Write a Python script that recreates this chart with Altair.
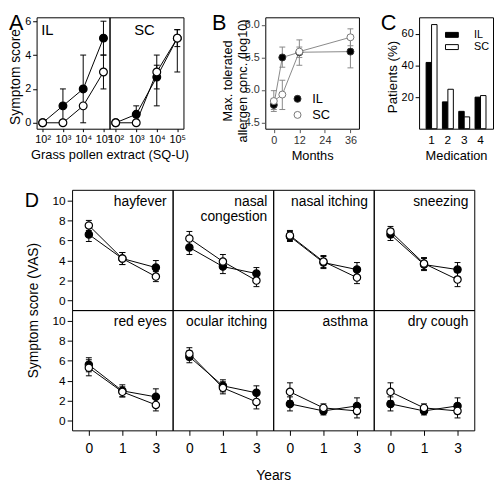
import altair as alt
import pandas as pd

FONT = "Liberation Sans"

# ---------------- Panel A : provocation symptom score ----------------
a_dose = [1e2, 1e3, 1e4, 1e5]
a_yticks = [0, 2, 4, 6]
a_il_filled = [0, 1, 2, 5]
a_il_filled_lo = [0, 0, 0, 4]
a_il_filled_hi = [0, 2, 4, 6]
a_il_open = [0, 0, 1, 3]
a_il_open_lo = [0, 0, 1, 2]
a_il_open_hi = [0, 0, 1, 4]
a_sc_filled = [0, 0.5, 2.7, 5]
a_sc_filled_lo = [0, 0, 1.0, 4.5]
a_sc_filled_hi = [0, 1.0, 4.0, 5.5]
a_sc_open = [0, 0, 3, 5]
a_sc_open_lo = [0, 0, 2.0, 3.0]
a_sc_open_hi = [0, 0, 3.4, 5.5]

# ---------------- Panel B : max tolerated allergen conc ----------------
b_months = [0, 4, 12, 36]
b_xticks = [0, 12, 24, 36]
b_yticks = [4.5, 5.0, 5.5, 6.0]
b_il = [4.77, 5.50, 5.58, 5.59]
b_il_lo = [4.67, 5.35, 5.50, 5.34]
b_il_hi = [4.87, 5.66, 5.66, 5.84]
b_sc = [4.83, 4.93, 5.59, 5.81]
b_sc_lo = [4.70, 4.70, 5.38, 5.68]
b_sc_hi = [4.99, 5.15, 5.77, 5.94]

# ---------------- Panel C : medication ----------------
c_medication = [1, 2, 3, 4]
c_il = [42, 17, 11, 20]
c_sc = [66, 25, 7.5, 21]
c_yticks = [20, 40, 60]

# ---------------- Panel D : symptom VAS ----------------
d_symptoms = ["hayfever", "nasal\ncongestion", "nasal itching", "sneezing",
              "red eyes", "ocular itching", "asthma", "dry cough"]
d_years = [0, 1, 3]
d_yticks = [0, 2, 4, 6, 8, 10]
d_il_mean = [[6.6, 4.2, 3.3], [5.3, 3.4, 2.7], [6.4, 3.8, 3.1], [6.6, 3.6, 3.1],
             [5.6, 3.0, 2.4], [6.4, 3.5, 2.8], [1.7, 1.0, 1.5], [1.7, 1.0, 1.5]]
d_il_err = [[0.7, 0.6, 0.7], [0.7, 0.7, 0.6], [0.5, 0.6, 0.7], [0.6, 0.6, 0.7],
            [0.7, 0.6, 0.8], [0.6, 0.6, 0.7], [0.7, 0.4, 0.8], [0.7, 0.4, 0.8]]
d_sc_mean = [[7.5, 4.2, 2.4], [6.2, 3.9, 2.0], [6.5, 3.9, 2.3], [6.9, 3.7, 2.1],
             [5.3, 2.9, 1.6], [6.7, 3.3, 1.9], [2.9, 1.3, 1.0], [2.9, 1.3, 1.0]]
d_sc_err = [[0.5, 0.6, 0.5], [0.7, 0.7, 0.6], [0.5, 0.6, 0.6], [0.5, 0.6, 0.7],
            [0.8, 0.5, 0.6], [0.6, 0.6, 0.7], [0.9, 0.4, 0.7], [0.9, 0.4, 0.7]]

CAP = "M-1,0L1,0"
BOX = "M-1,-0.385L1,-0.385L1,0.385L-1,0.385Z"


def ax(**kw):
    base = dict(grid=False, domain=False, tickColor="black", labelColor="black",
                labelFont=FONT, titleFont=FONT, titleFontWeight="normal",
                titleColor="black", tickSize=4, labelFontSize=11, labelPadding=2)
    base.update(kw)
    return alt.Axis(**base)


def note(txt, x, y, size, align="left", baseline="top"):
    return alt.Chart(pd.DataFrame({"t": [txt]})).mark_text(
        align=align, baseline=baseline, fontSize=size, font=FONT, color="black"
    ).encode(text="t:N", x=alt.value(x), y=alt.value(y))


def key_symbol(shape, fill, stroke, size, x, y):
    return alt.Chart(pd.DataFrame({"t": ["k"]})).mark_point(
        shape=shape, fill=fill, stroke=stroke, strokeWidth=1, size=size, opacity=1
    ).encode(x=alt.value(x), y=alt.value(y))


def error_layers(base, x, lo, hi, ysc, yaxis, color):
    return [
        base.mark_rule(color=color, strokeWidth=1).encode(
            x=x, y=alt.Y(lo, scale=ysc, axis=yaxis), y2=alt.Y2(hi)),
        base.mark_point(shape=CAP, stroke=color, strokeWidth=1, size=36, opacity=1).encode(
            x=x, y=alt.Y(lo, scale=ysc, axis=yaxis)),
        base.mark_point(shape=CAP, stroke=color, strokeWidth=1, size=36, opacity=1).encode(
            x=x, y=alt.Y(hi, scale=ysc, axis=yaxis)),
    ]


# ---------------- build A ----------------
def a_frame(filled, flo, fhi, opn, olo, ohi):
    rows = []
    for name, m, lo, hi in (("filled", filled, flo, fhi), ("open", opn, olo, ohi)):
        for d, v, l, h in zip(a_dose, m, lo, hi):
            rows.append({"dose": d, "score": v, "lo": l, "hi": h, "series": name})
    return pd.DataFrame(rows)


A_LABELS = ("'10' + (datum.value < 500 ? '\u00b2' : datum.value < 5000 ? '\u00b3' : "
            "datum.value < 50000 ? '\u2074' : '\u2075')")


def panel_a(df, width, tag, tag_x, first):
    xsc = alt.Scale(type="log", domain=[10 ** 1.7, 10 ** 5.3], nice=False)
    ysc = alt.Scale(domain=[-0.35, 6.23], nice=False, zero=False)
    if first:
        xaxis = ax(values=a_dose, labelExpr=A_LABELS, labelOverlap=False, labelFlush=False,
                   tickSize=3, title="Grass pollen extract (SQ-U)", titleFontSize=13,
                   titleX=74, titlePadding=4)
        yaxis = ax(values=a_yticks, title="Symptom score", titleFontSize=14,
                   titleX=-14, titleY=60)
    else:
        xaxis = ax(values=a_dose, labelExpr=A_LABELS, labelOverlap=False, labelFlush=False,
                   tickSize=3, title=None)
        yaxis = None
    x = alt.X("dose:Q", scale=xsc, axis=xaxis)
    y = alt.Y("score:Q", scale=ysc, axis=yaxis)
    base = alt.Chart(df)
    err = base.transform_filter("datum.hi > datum.lo")
    layers = [base.mark_line(color="black", strokeWidth=1).encode(x=x, y=y, detail="series:N")]
    layers += error_layers(err, x, "lo:Q", "hi:Q", ysc, yaxis, "black")
    layers += [
        base.transform_filter("datum.series == 'filled'").mark_point(
            shape="circle", fill="black", stroke="black", strokeWidth=1.2, size=62, opacity=1
        ).encode(x=x, y=y),
        base.transform_filter("datum.series == 'open'").mark_point(
            shape="circle", fill="white", stroke="black", strokeWidth=1.2, size=62, opacity=1
        ).encode(x=x, y=y),
        note(tag, tag_x, 5.6, 15),
    ]
    if first:
        layers.append(note("A", -28, -4, 22))
    return alt.layer(*layers).properties(width=width, height=113)


A_IL = panel_a(a_frame(a_il_filled, a_il_filled_lo, a_il_filled_hi,
                       a_il_open, a_il_open_lo, a_il_open_hi), 74, "IL", 4.7, True)
A_SC = panel_a(a_frame(a_sc_filled, a_sc_filled_lo, a_sc_filled_hi,
                       a_sc_open, a_sc_open_lo, a_sc_open_hi), 75, "SC", 25, False)

# ---------------- build B ----------------
b_rows = []
for g, m, lo, hi in (("IL", b_il, b_il_lo, b_il_hi), ("SC", b_sc, b_sc_lo, b_sc_hi)):
    for mo, v, l, h in zip(b_months, m, lo, hi):
        b_rows.append({"month": mo, "conc": v, "lo": l, "hi": h, "route": g})
b_df = pd.DataFrame(b_rows)

b_ysc = alt.Scale(domain=[4.405, 6.117], nice=False, zero=False)
b_yaxis = ax(values=b_yticks, format=".1f", title=["Max. tolerated", "allergen conc. (log10)"],
             titleFontSize=13, titleX=-31, titleY=64, labelColor="#333", tickColor="#555")
xb = alt.X("month:Q", scale=alt.Scale(domain=[-4, 40], nice=False, zero=False),
           axis=ax(values=b_xticks, title="Months", titleFontSize=13, titlePadding=4,
                   labelOverlap=False, labelFlush=False, labelColor="#333", tickColor="#555"))
yb = alt.Y("conc:Q", scale=b_ysc, axis=b_yaxis)
b_base = alt.Chart(b_df)
b_layers = [b_base.mark_line(color="#888", strokeWidth=1).encode(x=xb, y=yb, detail="route:N")]
b_layers += error_layers(b_base, xb, "lo:Q", "hi:Q", b_ysc, b_yaxis, "#888")
b_layers += [
    b_base.transform_filter("datum.route == 'IL'").mark_point(
        shape="circle", fill="black", stroke="#333", strokeWidth=1, size=50, opacity=1
    ).encode(x=xb, y=yb),
    b_base.transform_filter("datum.route == 'SC'").mark_point(
        shape="circle", fill="white", stroke="#777", strokeWidth=1, size=50, opacity=1
    ).encode(x=xb, y=yb),
    key_symbol("circle", "black", "#333", 50, 32.7, 82.7),
    key_symbol("circle", "white", "#777", 50, 32.7, 99),
    note("IL", 47.7, 82.7, 13, baseline="middle"),
    note("SC", 47.7, 99, 13, baseline="middle"),
    note("B", -54, -4, 22),
]
B = alt.layer(*b_layers).properties(width=95, height=113)

# ---------------- build C ----------------
c_rows = []
for g, vals in (("IL", c_il), ("SC", c_sc)):
    for med, v in zip(c_medication, vals):
        c_rows.append({"med": med, "pct": v, "grp": g})
c_df = pd.DataFrame(c_rows)

xc = alt.X("med:O", scale=alt.Scale(paddingInner=0.33, paddingOuter=0.43),
           axis=ax(labelAngle=0, ticks=False, labelPadding=6, labelFontSize=12,
                   title="Medication", titleFontSize=13, titlePadding=4))
yc = alt.Y("pct:Q", scale=alt.Scale(domain=[0, 70.6], nice=False),
           axis=ax(values=c_yticks, title="Patients (%)", titleFontSize=13.5,
                   titleX=-20, titleY=60))
C = alt.layer(
    alt.Chart(c_df).mark_bar(stroke="black", strokeWidth=1).encode(
        x=xc,
        xOffset=alt.XOffset("grp:N", scale=alt.Scale(domain=["IL", "SC"])),
        y=yc,
        fill=alt.Fill("grp:N", scale=alt.Scale(domain=["IL", "SC"], range=["black", "white"]), legend=None),
    ),
    key_symbol(BOX, "black", "black", 169, 33.3, 17.8),
    key_symbol(BOX, "white", "black", 169, 33.3, 30.2),
    note("IL", 55.7, 17.8, 11, baseline="middle"),
    note("SC", 55.7, 30.2, 11, baseline="middle"),
    note("C", -39, -4, 22),
).properties(width=75, height=113)


# ---------------- build D (grid of 8 panels) ----------------
def d_panel(i):
    rows = []
    for g, means, errs in (("IL", d_il_mean[i], d_il_err[i]), ("SC", d_sc_mean[i], d_sc_err[i])):
        for yr, m, e in zip(d_years, means, errs):
            rows.append({"year": yr, "vas": m, "lo": m - e, "hi": m + e, "series": g})
    df = pd.DataFrame(rows)
    r, c = divmod(i, 4)
    if r == 1:
        xkw = dict(labelAngle=0, labelFontSize=14, tickSize=5, labelPadding=6)
        if c == 1:
            xkw.update(title="Years", titleFontSize=14, titleX=102, titlePadding=14)
        else:
            xkw.update(title=None)
        xaxis = ax(**xkw)
    else:
        xaxis = None
    if c == 0:
        ykw = dict(values=d_yticks, labelFontSize=12, tickSize=5, labelPadding=2)
        if r == 1:
            ykw.update(title="Symptom score (VAS)", titleFontSize=14, titleX=-32, titleY=0)
        else:
            ykw.update(title=None)
        yaxis = ax(**ykw)
    else:
        yaxis = None
    ysc = alt.Scale(domain=[-0.94, 11.05], nice=False, zero=False)
    x = alt.X("year:O", scale=alt.Scale(type="point", padding=0.5), axis=xaxis)
    y = alt.Y("vas:Q", scale=ysc, axis=yaxis)
    base = alt.Chart(df)
    layers = [base.mark_line(color="black", strokeWidth=1).encode(x=x, y=y, detail="series:N")]
    layers += error_layers(base, x, "lo:Q", "hi:Q", ysc, yaxis, "black")
    layers += [
        base.transform_filter("datum.series == 'IL'").mark_point(
            shape="circle", fill="black", stroke="black", strokeWidth=1.2, size=55, opacity=1
        ).encode(x=x, y=y),
        base.transform_filter("datum.series == 'SC'").mark_point(
            shape="circle", fill="white", stroke="black", strokeWidth=1.2, size=55, opacity=1
        ).encode(x=x, y=y),
        alt.Chart(pd.DataFrame({"t": [d_symptoms[i]]})).mark_text(
            align="right", baseline="top", fontSize=14, font=FONT, color="black",
            lineBreak="\n"
        ).encode(text="t:N", x=alt.value(96), y=alt.value(5)),
    ]
    return alt.layer(*layers).properties(width=102, height=122)


# Nested groups count as zero-size under flush bounds, so spacings below are
# the offsets between the nested blocks.
D = alt.vconcat(
    alt.hconcat(*[d_panel(i) for i in range(4)], spacing=0, bounds="flush"),
    alt.hconcat(*[d_panel(i) for i in range(4, 8)], spacing=0, bounds="flush"),
    spacing=122, bounds="flush",
)

spacer = note("D", -12, 1.5, 20).properties(
    width=36, height=244, view=alt.ViewBackground(stroke="transparent"))

top = alt.hconcat(
    alt.hconcat(A_IL, A_SC, spacing=0, bounds="flush"),
    alt.hconcat(B, C, spacing=61, bounds="flush"),
    spacing=232, bounds="flush",
)
bottom = alt.hconcat(spacer, D, spacing=0, bounds="flush")

chart = alt.vconcat(top, bottom, spacing=175, bounds="flush").properties(padding=0).configure(
    font=FONT).configure_view(stroke="black", strokeWidth=1)

chart.save("out.html", embed_options={"renderer": "svg", "actions": False})
